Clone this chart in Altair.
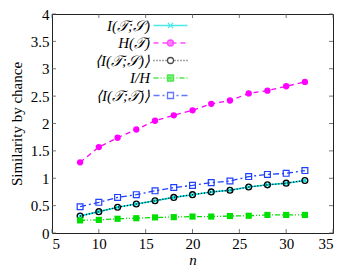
import altair as alt
import pandas as pd

# ---------------- data ----------------
n = [8, 10, 12, 14, 16, 18, 20, 22, 24, 26, 28, 30, 32]
I_TS = [0.31, 0.39, 0.47, 0.53, 0.59, 0.65, 0.70, 0.75, 0.78, 0.84, 0.88, 0.91, 0.96]
H_T = [1.29, 1.57, 1.74, 1.89, 2.05, 2.15, 2.24, 2.36, 2.42, 2.55, 2.60, 2.68, 2.76]
mean_I_TS = [0.31, 0.39, 0.47, 0.53, 0.59, 0.65, 0.70, 0.75, 0.78, 0.84, 0.88, 0.91, 0.96]
I_over_H = [0.23, 0.24, 0.26, 0.27, 0.285, 0.29, 0.30, 0.30, 0.31, 0.315, 0.33, 0.33, 0.33]
mean_I_TT = [0.48, 0.56, 0.65, 0.70, 0.77, 0.83, 0.87, 0.92, 0.95, 1.03, 1.07, 1.09, 1.14]

labels = ["I(𝒯;𝒮)", "H(𝒯)", "⟨I(𝒯;𝒮)⟩", "I/H", "⟨I(𝒯;𝒯)⟩"]
series_values = [I_TS, H_T, mean_I_TS, I_over_H, mean_I_TT]

x_ticks = [5, 10, 15, 20, 25, 30, 35]
y_ticks = [0, 0.5, 1, 1.5, 2, 2.5, 3, 3.5, 4]

rows = []
for lab, vals in zip(labels, series_values):
    for xv, v in zip(n, vals):
        rows.append({"n": xv, "value": v, "series": lab})
df = pd.DataFrame(rows)
xt = pd.DataFrame({"v": x_ticks})
yt = pd.DataFrame({"v": y_ticks})

# ---------------- styles ----------------
W, HGT = 281, 219
FONT = "Liberation Serif"
FS = 15

colors = ["#00e0e0", "#ff00ff", "#000000", "#00e000", "#1f3fff"]
dashes = [[], [5, 4], [1, 2], [5, 2, 1, 2, 1, 2], [6, 3, 2, 3]]
XPATH = "M-1,-1L1,1M-1,1L1,-1"
markers = [
    dict(shape=XPATH, filled=False, size=22, sw=1.2),
    dict(shape="circle", filled=True, size=40, sw=1),
    dict(shape="circle", filled=False, size=34, sw=1.3),
    dict(shape="square", filled=True, size=38, sw=1),
    dict(shape="square", filled=False, size=34, sw=1.2),
]
line_widths = [1.6, 1.3, 1.3, 1.3, 1.3]

# legend symbol paths: line with dash pattern + marker, in units of r = sqrt(size)/2
LEG_SIZE = 100
UNIT = (LEG_SIZE ** 0.5) / 2.0
HALF = 17.0


def fmt(v):
    return f"{v / UNIT:.3f}"


def legend_path(pattern, mk, hollow_r):
    segs = []
    if not pattern:
        segs = [(-HALF, HALF)]
    else:
        pos, i = -HALF, 0
        while pos < HALF:
            ln = pattern[i % len(pattern)]
            if i % 2 == 0:
                segs.append((pos, min(pos + ln, HALF)))
            pos += ln
            i += 1
    out = []
    for a, b in segs:
        if hollow_r > 0:
            if b <= -hollow_r or a >= hollow_r:
                pass
            else:
                if a < -hollow_r:
                    out.append((a, -hollow_r))
                if b > hollow_r:
                    out.append((hollow_r, b))
                continue
        out.append((a, b))
    p = "".join(f"M{fmt(a)},0L{fmt(b)},0" for a, b in out)
    r = 3.0
    if mk == "x":
        q = 2.6
        p += f"M{fmt(-q)},{fmt(-q)}L{fmt(q)},{fmt(q)}M{fmt(-q)},{fmt(q)}L{fmt(q)},{fmt(-q)}"
    elif mk == "circle":
        p += f"M{fmt(r)},0A{fmt(r)},{fmt(r)} 0 1,1 {fmt(-r)},0A{fmt(r)},{fmt(r)} 0 1,1 {fmt(r)},0Z"
    elif mk == "square":
        p += f"M{fmt(-r)},{fmt(-r)}L{fmt(r)},{fmt(-r)}L{fmt(r)},{fmt(r)}L{fmt(-r)},{fmt(r)}Z"
    return p


leg_paths = [
    legend_path(dashes[0], "x", 0),
    legend_path(dashes[1], "circle", 0),
    legend_path(dashes[2], "circle", 3.0),
    legend_path(dashes[3], "square", 0),
    legend_path(dashes[4], "square", 3.0),
]
leg_fills = ["transparent", colors[1], "white", colors[3], "white"]

xscale = alt.Scale(domain=[5, 35], nice=False, zero=False)
yscale = alt.Scale(domain=[0, 4], nice=False)

xaxis = alt.Axis(values=x_ticks, title="n", titleFontStyle="italic", tickSize=0,
                 domain=False, grid=False, labelPadding=3, titlePadding=1, format="d",
                 labelFont=FONT, titleFont=FONT)
yaxis = alt.Axis(values=y_ticks, title="Similarity by chance", tickSize=0,
                 domain=False, grid=False, labelPadding=3, titlePadding=6, format="~g",
                 labelFont=FONT, titleFont=FONT)


def X(f="n:Q"):
    return alt.X(f, scale=xscale, axis=xaxis)


def Y(f="value:Q"):
    return alt.Y(f, scale=yscale, axis=yaxis)


layers = []
TICKC = "#555555"
layers.append(alt.Chart(yt).mark_rule(color=TICKC, strokeWidth=0.8).encode(
    y=Y("v:Q"), x=alt.value(0), x2=alt.value(4)))
layers.append(alt.Chart(yt).mark_rule(color=TICKC, strokeWidth=0.8).encode(
    y=Y("v:Q"), x=alt.value(W - 4), x2=alt.value(W)))
layers.append(alt.Chart(xt).mark_rule(color=TICKC, strokeWidth=0.8).encode(
    x=X("v:Q"), y=alt.value(HGT - 4), y2=alt.value(HGT)))
layers.append(alt.Chart(xt).mark_rule(color=TICKC, strokeWidth=0.8).encode(
    x=X("v:Q"), y=alt.value(0), y2=alt.value(4)))

for i, lab in enumerate(labels):
    sub = alt.Chart(df).transform_filter(alt.datum.series == lab)
    lk = dict(color=colors[i], strokeWidth=line_widths[i])
    if dashes[i]:
        lk["strokeDash"] = dashes[i]
    layers.append(sub.mark_line(**lk).encode(x=X(), y=Y()))
    m = markers[i]
    pk = dict(shape=m["shape"], filled=m["filled"], color=colors[i], size=m["size"],
              strokeWidth=m["sw"], opacity=1)
    layers.append(sub.mark_point(**pk).encode(x=X(), y=Y()))

legend = alt.Legend(orient="none", legendX=111, legendY=4, labelAlign="right",
                    labelOffset={"expr": "-28"}, symbolSize=LEG_SIZE, symbolStrokeWidth=1.3,
                    labelFont=FONT, labelFontSize=FS, labelFontStyle="italic",
                    labelColor="black", rowPadding=1.5, padding=0, labelLimit=300)

leg_layer = alt.Chart(df).transform_filter("datum.n < 0").mark_point(filled=False).encode(
    x=X(), y=Y(),
    color=alt.Color("series:N", title=None, legend=legend,
                    scale=alt.Scale(domain=labels, range=colors)),
    fill=alt.Fill("series:N", title=None, legend=legend,
                  scale=alt.Scale(domain=labels, range=leg_fills)),
    shape=alt.Shape("series:N", title=None, legend=legend,
                    scale=alt.Scale(domain=labels, range=leg_paths)),
)
layers.append(leg_layer)

chart = alt.layer(*layers).properties(
    width=W, height=HGT,
    autosize=alt.AutoSizeParams(type="none"),
    padding={"left": 44, "top": 6, "right": 13, "bottom": 34},
).configure_view(stroke="#222222", strokeWidth=1).configure_axis(
    labelFont=FONT, labelFontSize=FS, titleFont=FONT, titleFontSize=FS,
    titleFontWeight="normal", labelColor="black", titleColor="black",
)

chart.save("out.html", embed_options={"renderer": "svg", "actions": False})
